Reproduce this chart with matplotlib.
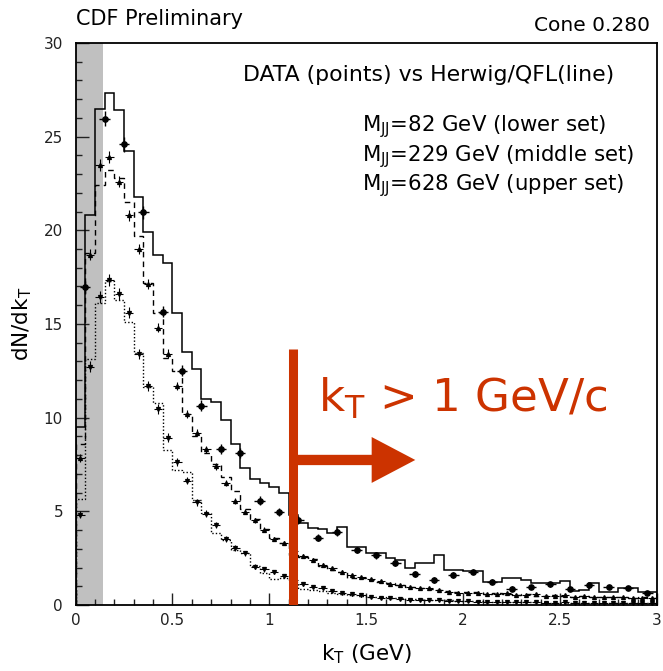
import matplotlib
matplotlib.use("Agg")
import matplotlib.pyplot as plt
from matplotlib.patches import FancyArrow
import numpy as np

plt.rcParams['font.family'] = ['DejaVu Sans']
plt.rcParams['mathtext.default'] = 'regular'

# bin edges: fine bins of 0.05 GeV, upper-set data in 0.1 GeV bins
edges = np.round(np.arange(0, 3.0001, 0.05), 3)
centers_fine = edges[:-1] + 0.025
centers_coarse = np.round(np.arange(0.05, 3.0, 0.1), 3)

# Herwig/QFL, Mjj = 628 GeV (solid)
mc_upper = [9.5, 20.8, 26.5, 27.35, 26.4, 24.25, 21.8, 19.9, 18.7, 18.25,
            15.6, 13.5, 12.6, 11.0, 10.85, 9.9, 8.6, 7.3, 6.75, 6.5,
            6.3, 6.0, 4.8, 4.4, 4.1, 4.05, 3.85, 4.15, 3.1, 3.1,
            2.75, 2.75, 2.5, 2.4, 2.0, 2.25, 2.25, 2.65, 1.87, 1.87,
            1.8, 1.8, 1.25, 1.25, 1.45, 1.45, 1.35, 1.15, 1.15, 1.15,
            1.28, 0.75, 0.8, 1.18, 0.68, 0.68, 0.9, 0.9, 0.7, 0.7]
# Herwig/QFL, Mjj = 229 GeV (dashed)
mc_middle = [8.6, 18.8, 22.4, 23.2, 22.8, 21.5, 19.7, 17.2, 15.6, 13.2,
             12.5, 10.2, 9.0, 8.1, 7.55, 6.85, 6.1, 5.1, 4.6, 4.05,
             3.55, 3.3, 2.67, 2.55, 2.45, 2.1, 1.85, 1.75, 1.45, 1.45,
             1.35, 1.25, 1.15, 1.05, 0.95, 0.9, 0.85, 0.8, 0.75, 0.7,
             0.7, 0.68, 0.6, 0.62, 0.58, 0.55, 0.6, 0.5, 0.5, 0.55,
             0.48, 0.45, 0.5, 0.42, 0.45, 0.4, 0.42, 0.38, 0.4, 0.35]
# Herwig/QFL, Mjj = 82 GeV (dotted)
mc_lower = [5.64, 13.12, 16.1, 17.3, 16.28, 15.1, 13.44, 11.66, 10.77, 8.28,
            7.2, 7.1, 5.58, 4.92, 3.83, 3.47, 2.95, 2.8, 2.1, 1.73,
            1.38, 1.42, 1.2, 0.85, 0.8, 0.75, 0.65, 0.6, 0.55, 0.5,
            0.45, 0.42, 0.38, 0.35, 0.32, 0.3, 0.28, 0.26, 0.24, 0.22,
            0.2, 0.2, 0.18, 0.18, 0.16, 0.16, 0.15, 0.14, 0.14, 0.13,
            0.12, 0.12, 0.11, 0.11, 0.1, 0.1, 0.09, 0.09, 0.08, 0.08]

# CDF data
data_upper = [16.96, 25.95, 24.6, 20.97, 15.66, 12.51, 10.64, 8.33, 8.1, 5.57,
              4.98, 4.54, 3.6, 3.9, 2.94, 2.66, 2.22, 1.64, 1.33, 1.6,
              1.78, 1.25, 0.87, 0.96, 1.1, 0.84, 1.05, 0.95, 0.89, 0.62]
err_upper = [0.35, 0.4, 0.4, 0.35, 0.3, 0.3, 0.28, 0.26, 0.26, 0.24,
             0.22, 0.22, 0.2, 0.2, 0.18, 0.18, 0.16, 0.15, 0.14, 0.15,
             0.15, 0.13, 0.12, 0.12, 0.12, 0.11, 0.12, 0.11, 0.11, 0.1]
data_middle = [7.85, 18.7, 23.5, 23.9, 22.6, 20.8, 19.0, 17.14, 14.8, 13.4,
               11.69, 10.2, 9.2, 8.3, 7.4, 6.5, 5.55, 4.98, 4.52, 4.02,
               3.53, 3.3, 2.9, 2.62, 2.4, 2.14, 1.96, 1.78, 1.6, 1.48,
               1.37, 1.28, 1.12, 1.05, 0.95, 0.89, 0.89, 0.8, 0.71, 0.66,
               0.62, 0.65, 0.6, 0.58, 0.62, 0.55, 0.52, 0.56, 0.5, 0.48,
               0.52, 0.45, 0.47, 0.42, 0.45, 0.4, 0.42, 0.38, 0.36, 0.35]
data_lower = [4.82, 12.72, 16.43, 17.35, 16.6, 15.6, 13.4, 11.67, 10.46, 8.92,
              7.63, 6.64, 5.48, 4.88, 4.27, 3.5, 3.05, 2.76, 2.04, 1.9,
              1.75, 1.55, 1.35, 1.1, 0.98, 0.89, 0.75, 0.66, 0.57, 0.52,
              0.44, 0.38, 0.36, 0.32, 0.28, 0.27, 0.25, 0.24, 0.22, 0.2,
              0.2, 0.18, 0.17, 0.18, 0.15, 0.16, 0.14, 0.15, 0.13, 0.12,
              0.14, 0.12, 0.11, 0.12, 0.1, 0.11, 0.1, 0.09, 0.1, 0.08]
# statistical errors for the fine-binned sets
err_fine = [0.2, 0.3, 0.32, 0.32, 0.3, 0.3, 0.28, 0.27, 0.25, 0.24,
            0.22, 0.2, 0.2, 0.18, 0.17, 0.16, 0.15, 0.14, 0.13, 0.12,
            0.12, 0.11, 0.1, 0.1, 0.09, 0.09, 0.08, 0.08, 0.07, 0.07,
            0.07, 0.06, 0.06, 0.06, 0.05, 0.05, 0.05, 0.05, 0.05, 0.05,
            0.04, 0.04, 0.04, 0.04, 0.04, 0.04, 0.04, 0.04, 0.04, 0.04,
            0.04, 0.04, 0.04, 0.04, 0.04, 0.04, 0.04, 0.04, 0.04, 0.04]

mass_labels = ["M$_{JJ}$=82 GeV (lower set)",
               "M$_{JJ}$=229 GeV (middle set)",
               "M$_{JJ}$=628 GeV (upper set)"]

kt_cut = 1.12
red = '#cc3300'

fig = plt.figure(figsize=(6.63, 6.71), dpi=100)
ax = fig.add_axes([0.1139, 0.0984, 0.877, 0.8376])

# region excluded from the fit
ax.axvspan(0, 0.14, color='#c0c0c0', lw=0, zorder=0)

ax.stairs(mc_upper, edges, color='black', lw=1.1, zorder=2)
ax.stairs(mc_middle, edges, color='black', lw=1.0, ls=(0, (4, 3)), zorder=2)
ax.stairs(mc_lower, edges, color='black', lw=1.0, ls=(0, (1, 1.5)), zorder=2)

ax.errorbar(centers_coarse, data_upper, xerr=0.027, yerr=err_upper, fmt='o',
            ms=3.8, color='black', elinewidth=1, capsize=0, zorder=3)
ax.errorbar(centers_fine, data_middle, xerr=0.022, yerr=err_fine, fmt='^',
            ms=2.8, color='black', elinewidth=0.8, capsize=0, zorder=3)
ax.errorbar(centers_fine, data_lower, xerr=0.022, yerr=err_fine, fmt='v',
            ms=2.8, color='black', elinewidth=0.8, capsize=0, zorder=3)

ax.set_xlim(0, 3)
ax.set_ylim(0, 30)
ax.set_xticks(np.arange(0, 3.01, 0.5))
ax.set_xticklabels(['0', '0.5', '1', '1.5', '2', '2.5', '3'])
ax.set_xticks(np.arange(0, 3.01, 0.1), minor=True)
ax.set_yticks(np.arange(0, 31, 5))
ax.set_yticks(np.arange(0, 31, 1), minor=True)
ax.tick_params(which='both', direction='in', top=False, right=False,
               labelsize=11, width=1, colors='#222222')
ax.tick_params(which='major', length=9)
ax.tick_params(which='minor', length=4.5)
ax.tick_params(axis='x', pad=6)
ax.tick_params(axis='y', pad=9)
for s in ax.spines.values():
    s.set_linewidth(1.3)

ax.set_xlabel('k$_T$ (GeV)', fontsize=15.5, va='center')
ax.xaxis.set_label_coords(0.5, -0.087)
ax.set_ylabel('dN/dk$_T$', fontsize=15.5, va='center')
ax.yaxis.set_label_coords(-0.092, 0.5)

fig.text(0.1146, 0.972, 'CDF Preliminary', fontsize=15, va='center')
fig.text(0.98, 0.962, 'Cone 0.280', fontsize=14.5, va='center', ha='right')

ax.text(0.288, 0.943, 'DATA (points) vs Herwig/QFL(line)', fontsize=15.8,
        transform=ax.transAxes, va='center')
for i, lab in enumerate(mass_labels):
    ax.text(0.4927, 0.8505 - i * 0.0525, lab, fontsize=15.3,
            transform=ax.transAxes, va='center')

# kT cut marker
ax.plot([kt_cut, kt_cut], [0, 13.67], color=red, lw=6.5, solid_capstyle='butt', zorder=4)
ax.add_patch(FancyArrow(kt_cut, 7.74, 1.753 - kt_cut, 0, width=0.55,
                        head_width=2.45, head_length=0.225,
                        length_includes_head=True, color=red, lw=0, zorder=4))
ax.text(1.25, 10.3, 'k$_T$ > 1 GeV/c', fontsize=32.5, color=red,
        va='baseline', ha='left', zorder=4)

fig.savefig('out.png', dpi=100)
